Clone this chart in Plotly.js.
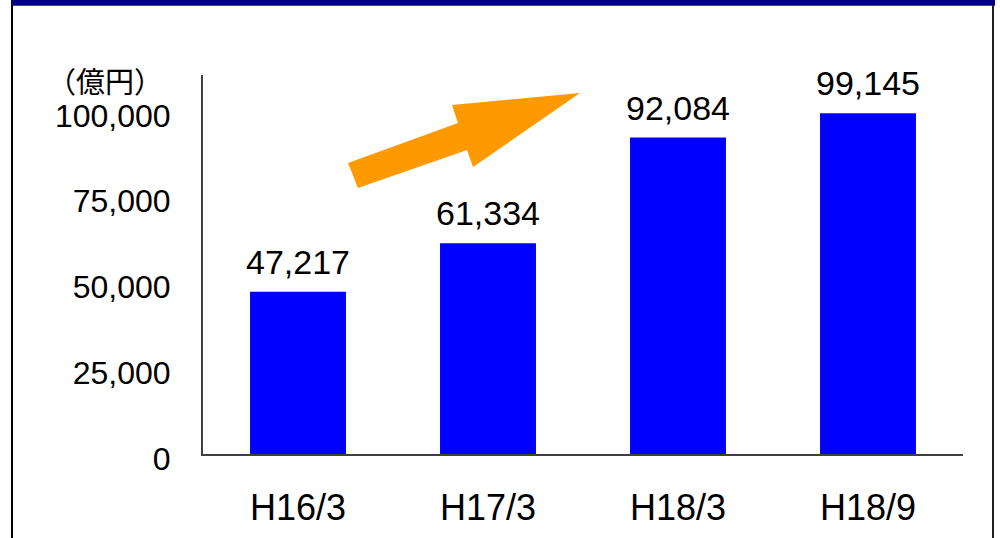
<!DOCTYPE html>
<html>
<head>
<meta charset="utf-8">
<script src="https://cdn.plot.ly/plotly-3.0.1.min.js"></script>
<style>html,body{margin:0;padding:0;background:#fff;}#chart{width:1000px;height:538px;}</style>
</head>
<body>
<div id="chart"></div>
<script>
const categories = ["H16/3", "H17/3", "H18/3", "H18/9"];
const values = [47217, 61334, 92084, 99145];
const tickValues = [0, 25000, 50000, 75000, 100000];
const tickLabels = ["0", "25,000", "50,000", "75,000", "100,000"];
const unitLabel = "（億円）";

const W = 1000, H = 538;
const L = 203, R = 963, T = 75, B = 454;
const px = x => (x - L) / (R - L);
const py = y => (B - y) / (B - T);

const arrowPts = [[348,163],[458,123],[452,105],[580,93],[473,167],[467,150],[358,188]];
const arrowPath = 'M ' + arrowPts.map(p => px(p[0]).toFixed(5) + ' ' + py(p[1]).toFixed(5)).join(' L ') + ' Z';

const font = "Liberation Sans, Arial, sans-serif";

const trace = {
  type: 'bar',
  x: categories,
  y: values,
  marker: {color: '#0000FF', line: {width: 0}},
  hoverinfo: 'none'
};

const annotations = categories.map((c, i) => ({
  x: c, y: values[i], xref: 'x', yref: 'y',
  text: values[i].toLocaleString('en-US'),
  showarrow: false, yanchor: 'bottom', yshift: 9,
  font: {family: font, size: 34, color: '#000'}
}));
annotations.push({
  x: px(105), y: py(80), xref: 'paper', yref: 'paper',
  text: unitLabel, showarrow: false, xanchor: 'center', yanchor: 'middle',
  font: {family: "Noto Sans CJK JP, sans-serif", size: 29, color: '#000'}
});

const layout = {
  width: W, height: H,
  margin: {l: L, r: W - R, t: T, b: H - B, pad: 0},
  paper_bgcolor: '#fff', plot_bgcolor: '#fff',
  showlegend: false,
  bargap: 0.495,
  xaxis: {
    showline: true, linecolor: '#404040', linewidth: 2,
    ticks: '', showgrid: false, zeroline: false,
    tickfont: {family: font, size: 36, color: '#000'},
    ticklabelstandoff: 21
  },
  yaxis: {
    range: [0, 110300],
    showline: true, linecolor: '#404040', linewidth: 2,
    ticks: '', showgrid: false, zeroline: false,
    tickvals: tickValues, ticktext: tickLabels,
    tickfont: {family: font, size: 32, color: '#000'},
    ticklabelstandoff: 24, ticklabelshift: 5
  },
  annotations: annotations,
  shapes: [
    {type: 'path', xref: 'paper', yref: 'paper', path: arrowPath,
     fillcolor: '#FF9900', line: {width: 0}},
    {type: 'rect', xref: 'paper', yref: 'paper', x0: px(11), x1: px(995), y0: py(0), y1: py(5.7),
     fillcolor: '#000080', line: {width: 0}},
    {type: 'line', xref: 'paper', yref: 'paper', x0: px(12), x1: px(12), y0: py(5), y1: py(540),
     line: {color: '#000', width: 2}},
    {type: 'line', xref: 'paper', yref: 'paper', x0: px(993), x1: px(993), y0: py(5), y1: py(540),
     line: {color: '#202020', width: 2}}
  ]
};

Plotly.newPlot('chart', [trace], layout, {staticPlot: true, displayModeBar: false});
</script>
</body>
</html>
